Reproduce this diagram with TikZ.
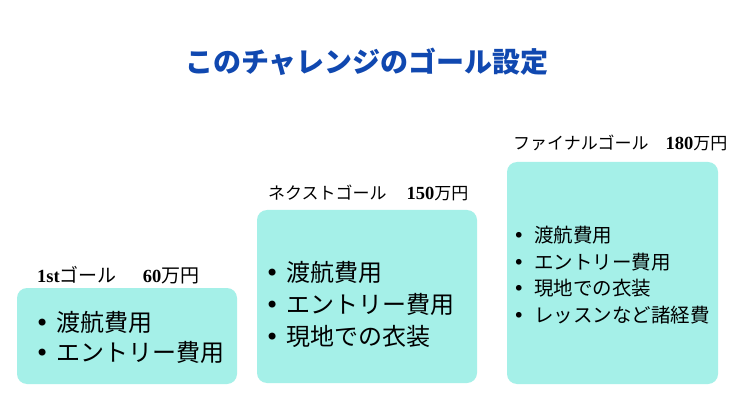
\documentclass[tikz,border=0pt]{standalone}
\usepackage{fontspec}
\setmainfont{Noto Sans CJK JP}
\newfontfamily\numfont{Liberation Serif}
\newfontfamily\dotfont{DejaVu Sans}
\definecolor{goalfill}{RGB}{165,240,232}
\definecolor{titleblue}{RGB}{16,72,176}
\newcommand{\goalitem}{\makebox[18pt][l]{\hspace{-3pt}\dotfont •}}
\newcommand{\amount}[1]{{\numfont\bfseries\fontsize{18.5}{20}\selectfont #1}}
\begin{document}
\begin{tikzpicture}[x=1pt,y=-1pt,
    goal/.style={fill=goalfill, draw=none, rounded corners=10pt, inner sep=0pt},
    goallabel/.style={anchor=west, inner sep=0pt, font=\fontsize{17}{20}\selectfont},
    goallist/.style={anchor=west, inner sep=0pt, align=left}]
    \useasboundingbox (0,0) rectangle (736,414);
    \fill[white] (0,0) rectangle (736,414);
    \node[font=\fontsize{28}{32}\selectfont\bfseries, text=titleblue] (title) at (367,62) {このチャレンジのゴール設定};

    \node[goal, minimum width=220pt, minimum height=96pt] (first) at (127,336) {};
    \node[goal, minimum width=220pt, minimum height=173pt] (next) at (367,296.5) {};
    \node[goal, minimum width=211pt, minimum height=222pt] (final) at (612.5,273) {};

    \node[goallabel, font=\fontsize{19}{20}\selectfont] (firstlabel) at (37,275) {\amount{1st}ゴール\hspace{26pt}\amount{60}万円};
    \node[goallabel] (nextlabel) at (268,193) {ネクストゴール\hspace{20pt}\amount{150}万円};
    \node[goallabel] (finallabel) at (513,143) {ファイナルゴール\hspace{17pt}\amount{180}万円};

    \node[goallist, font=\fontsize{24}{30}\selectfont] (firstlist) at (38,337)
        {\goalitem 渡航費用\\ \goalitem エントリー費用};
    \node[goallist, font=\fontsize{24}{32}\selectfont] (nextlist) at (268,304)
        {\goalitem 渡航費用\\ \goalitem エントリー費用\\ \goalitem 現地での衣装};
    \node[goallist, font=\fontsize{19.5}{26.7}\selectfont] (finallist) at (516,275)
        {\goalitem 渡航費用\\ \goalitem エントリー費用\\ \goalitem 現地での衣装\\ \goalitem レッスンなど諸経費};
\end{tikzpicture}
\end{document}
